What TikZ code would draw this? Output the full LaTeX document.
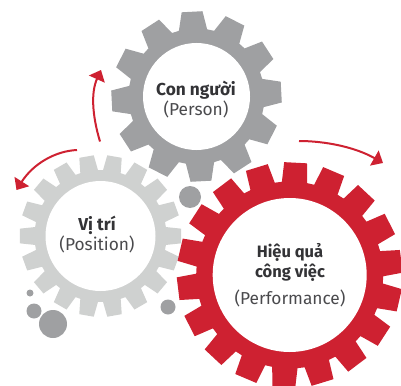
\documentclass[tikz,border=0pt]{standalone}
\usepackage{fontspec}
\setmainfont{Fira Sans}
\usetikzlibrary{arrows.meta}
\definecolor{geargray}{HTML}{9FA0A2}
\definecolor{gearlight}{HTML}{CFD1D0}
\definecolor{gearred}{HTML}{CE2131}
\definecolor{inktext}{HTML}{333336}
\definecolor{subtext}{HTML}{4A4A4D}
% \gearshape{cx}{cy}{root R}{tip R}{teeth}{offset}{root half-angle}{tip half-angle}{colour}
\newcommand{\gearshape}[9]{%
  \pgfmathsetmacro{\stepang}{360/#5}%
  \pgfmathtruncatemacro{\lastn}{#5-1}%
  \fill[#9] ({#1+#3*cos(#6-#7)},{#2-#3*sin(#6-#7)})
    \foreach \n [evaluate=\n as \ang using #6+\n*\stepang] in {0,...,\lastn}{
    -- ({#1+#3*cos(\ang-#7)},{#2-#3*sin(\ang-#7)})
    -- ({#1+#4*cos(\ang-#8)},{#2-#4*sin(\ang-#8)})
    -- ({#1+#4*cos(\ang+#8)},{#2-#4*sin(\ang+#8)})
    -- ({#1+#3*cos(\ang+#7)},{#2-#3*sin(\ang+#7)})
  } -- cycle;%
}
\tikzset{
  hub/.style={circle,fill=white,inner sep=0pt,align=center,text=subtext},
  bubble/.style={circle,fill=geargray,inner sep=0pt},
  turn/.style={draw=gearred,line width=2pt,-{Triangle[length=10pt,width=17pt]}},
  label/.style={align=center,text=subtext,font=\fontsize{17.3}{20}\selectfont},
}
\begin{document}
\begin{tikzpicture}[x=1pt,y=-1pt]
\useasboundingbox (0,0) rectangle (401,385);
\gearshape{100.5}{236}{66}{81}{18}{0}{7.8}{5.2}{gearlight}
\gearshape{196.5}{96.5}{68}{85.5}{12}{3}{12}{7}{geargray}
\node[bubble,minimum size=22pt] (b4) at (190,197) {};
\node[bubble,minimum size=15pt] (b1) at (168,307) {};
\node[bubble,minimum size=7pt] (b2) at (30,293) {};
\node[bubble,minimum size=15pt] (b3) at (34,311) {};
\node[bubble,minimum size=28pt] (b5) at (53,324) {};
\gearshape{289.7}{275}{93.5}{113}{18}{7}{7.8}{5.8}{gearred}
\node[hub,minimum size=107pt] (person) at (196.5,96.5) {};
\node[hub,minimum size=110pt] (position) at (100.5,236) {};
\node[hub,minimum size=154pt] (perf) at (289.7,275) {};
\node[label] (persontext) at (196,100) {{\bfseries\color{inktext}Con người}\\(Person)};
\node[label] (positiontext) at (97,235) {{\bfseries\color{inktext}Vị trí}\\(Position)};
\node[align=center,text=inktext,font=\fontsize{16.5}{20}\selectfont\bfseries] (perftitle) at (290,262) {Hiệu quả\\công việc};
\node[label] (perfsub) at (290,298) {(Performance)};
\coordinate (a1s) at (100,141.5);
\coordinate (a1e) at (101,70);
\coordinate (a2s) at (77,150);
\coordinate (a2e) at (16.5,190);
\coordinate (a3s) at (299,141);
\coordinate (a3e) at (383,163);
\draw[turn] (a1s) .. controls (92,115) and (91,92) .. (a1e);
\draw[turn] (a2s) .. controls (55,151) and (33,164) .. (a2e);
\draw[turn] (a3s) .. controls (325,141) and (355,147) .. (a3e);
\end{tikzpicture}
\end{document}
